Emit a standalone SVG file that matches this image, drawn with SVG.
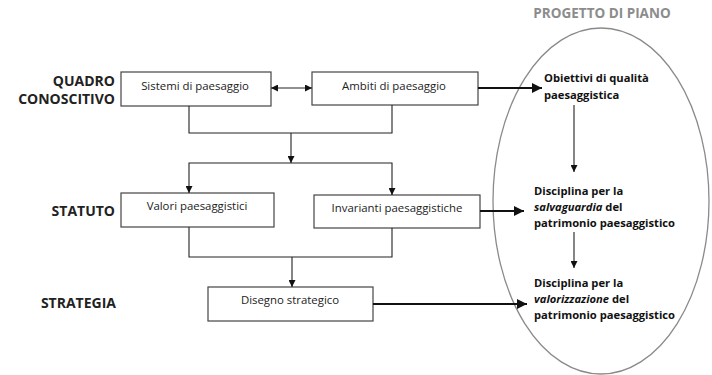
<svg xmlns="http://www.w3.org/2000/svg" width="712" height="375" viewBox="0 0 712 375">
<style>
.box{fill:#fff;stroke:#444;stroke-width:1.2}
.bt{font-family:"Open Sans","Liberation Sans",sans-serif;font-size:11.4px;fill:#222;text-anchor:middle}
.lab{font-family:"Open Sans","Liberation Sans",sans-serif;font-size:14px;font-weight:bold;fill:#222;text-anchor:end}
.pt{font-family:"Open Sans","Liberation Sans",sans-serif;font-size:11.2px;font-weight:bold;fill:#111}
.it{font-style:italic}
.ln{fill:none;stroke:#222;stroke-width:1.1}
.th{fill:none;stroke:#111;stroke-width:2}
</style>
<defs>
<marker id="ah" viewBox="0 0 10 10" refX="10" refY="5" markerWidth="7" markerHeight="7" markerUnits="userSpaceOnUse" orient="auto-start-reverse"><path d="M0,0 L10,5 L0,10 Z" fill="#111"/></marker>
<marker id="ahT" viewBox="0 0 10 10" refX="10" refY="5" markerWidth="5" markerHeight="5" orient="auto"><path d="M0,0 L10,5 L0,10 Z" fill="#111"/></marker>
</defs>
<g id="labels">
<text class="lab" x="115" y="86">QUADRO</text>
<text class="lab" x="115" y="104">CONOSCITIVO</text>
<text class="lab" x="115" y="216">STATUTO</text>
<text class="lab" x="116" y="308">STRATEGIA</text>
</g>
<g id="progetto">
<ellipse cx="601" cy="201" rx="108" ry="173" fill="none" stroke="#8a8a8a" stroke-width="1.3"/>
<text x="602" y="18" font-family="'Open Sans','Liberation Sans',sans-serif" font-size="13.5" font-weight="bold" fill="#8c8c8c" text-anchor="middle">PROGETTO DI PIANO</text>
</g>
<g id="sistemi"><rect class="box" x="121" y="72" width="150" height="34"/><text class="bt" x="195" y="90">Sistemi di paesaggio</text></g>
<g id="ambiti"><rect class="box" x="312" y="72" width="166" height="33"/><text class="bt" x="394" y="90">Ambiti di paesaggio</text></g>
<g id="valori"><rect class="box" x="121" y="193" width="153" height="34"/><text class="bt" x="197" y="210">Valori paesaggistici</text></g>
<g id="invarianti"><rect class="box" x="314" y="195" width="166" height="33"/><text class="bt" x="397" y="212">Invarianti paesaggistiche</text></g>
<g id="disegno"><rect class="box" x="208" y="287" width="165" height="34"/><text class="bt" x="290" y="304">Disegno strategico</text></g>
<g id="obiettivi"><text class="pt" x="544" y="82">Obiettivi di qualità</text><text class="pt" x="544" y="99">paesaggistica</text></g>
<g id="salvaguardia"><text class="pt" x="534" y="195">Disciplina per la</text><text class="pt" x="534" y="211"><tspan class="it">salvaguardia</tspan> del</text><text class="pt" x="534" y="227">patrimonio paesaggistico</text></g>
<g id="valorizzazione"><text class="pt" x="534" y="287">Disciplina per la</text><text class="pt" x="534" y="303"><tspan class="it">valorizzazione</tspan> del</text><text class="pt" x="534" y="319">patrimonio paesaggistico</text></g>
<g id="connectors">
<path class="ln" d="M271,88 H312" marker-start="url(#ah)" marker-end="url(#ah)"/>
<path class="ln" d="M189,106 V133 H392 V105"/>
<path class="ln" d="M291,133 V163" marker-end="url(#ah)"/>
<path class="ln" d="M189,193 V163 H392 V195" marker-start="url(#ah)" marker-end="url(#ah)"/>
<path class="ln" d="M189,227 V257 H392 V228"/>
<path class="ln" d="M292,257 V287" marker-end="url(#ah)"/>
<path class="ln" d="M574,105 V172" marker-end="url(#ah)"/>
<path class="ln" d="M574,232 V268" marker-end="url(#ah)"/>
<path class="th" d="M478,88 H542" marker-end="url(#ahT)"/>
<path class="th" d="M480,211 H524" marker-end="url(#ahT)"/>
<path class="th" d="M373,304 H527" marker-end="url(#ahT)"/>
</g>
</svg>
